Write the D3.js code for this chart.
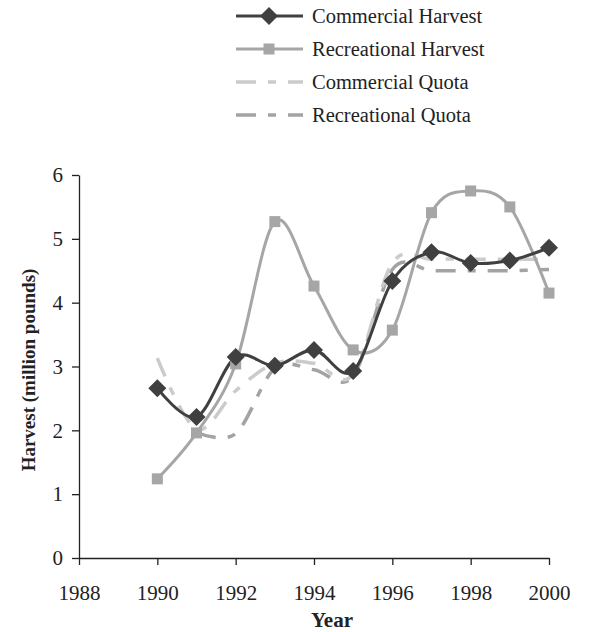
<!DOCTYPE html>
<html>
<head>
<meta charset="utf-8">
<script src="https://cdn.jsdelivr.net/npm/d3@7"></script>
<style>
  body { margin: 0; background: #fff; }
  svg { display: block; }
  text { font-family: "Liberation Serif", "Times New Roman", serif; fill: #222; }
</style>
</head>
<body>
<svg id="chart" width="589" height="632"></svg>
<script>
const years = [1990, 1991, 1992, 1993, 1994, 1995, 1996, 1997, 1998, 1999, 2000];
const commercialHarvest = [2.66, 2.21, 3.15, 3.01, 3.26, 2.93, 4.34, 4.79, 4.62, 4.66, 4.86];
const recreationalHarvest = [1.24, 1.96, 3.04, 5.27, 4.26, 3.26, 3.57, 5.41, 5.75, 5.50, 4.15];
const quotaYearsCom = [1990, 1991, 1992, 1993, 1994, 1995, 1996, 1997, 1998, 1999, 2000];
const commercialQuota = [3.13, 2.02, 2.62, 3.05, 3.05, 2.88, 4.62, 4.68, 4.68, 4.68, 4.68];
const quotaYearsRec = [1991, 1992, 1993, 1994, 1995, 1996, 1997, 1998, 1999, 2000];
const recreationalQuota = [1.97, 1.95, 2.97, 2.95, 2.85, 4.52, 4.50, 4.50, 4.50, 4.52];
const xTicks = [1988, 1990, 1992, 1994, 1996, 1998, 2000];
const yTicks = [0, 1, 2, 3, 4, 5, 6];
const seriesNames = ["Commercial Harvest", "Recreational Harvest", "Commercial Quota", "Recreational Quota"];

const svg = d3.select("#chart");
const x = d3.scaleLinear().domain([1988, 2000]).range([79, 549]);
const y = d3.scaleLinear().domain([0, 6]).range([558, 175]);

// Axes
const xAxis = d3.axisBottom(x).tickValues(xTicks).tickFormat(d3.format("d")).tickSize(7).tickSizeOuter(0);
const gx = svg.append("g").attr("transform", `translate(0,${y(0)})`).call(xAxis);
gx.select(".domain").attr("stroke", "#222").attr("stroke-width", 1.3);
gx.selectAll(".tick line").attr("stroke", "#222").attr("stroke-width", 1.3);
gx.selectAll(".tick text").attr("font-size", 21).attr("y", 10).attr("dy", "1.5em")
  .style("font-family", "'Liberation Serif', serif").attr("fill", "#222");

const yAxis = d3.axisLeft(y).tickValues(yTicks).tickFormat(d3.format("d")).tickSize(7).tickSizeOuter(0);
const gy = svg.append("g").attr("transform", `translate(${x(1988)},0)`).call(yAxis);
gy.select(".domain").attr("stroke", "#222").attr("stroke-width", 1.3);
gy.selectAll(".tick line").attr("stroke", "#222").attr("stroke-width", 1.3);
gy.selectAll(".tick text").attr("font-size", 21).attr("x", -16)
  .style("font-family", "'Liberation Serif', serif").attr("fill", "#222");

// Axis titles
svg.append("text").attr("x", 332).attr("y", 627).attr("text-anchor", "middle")
  .attr("font-size", 21).attr("font-weight", "bold").text("Year");
svg.append("text").attr("transform", `translate(35,370) rotate(-90)`)
  .attr("text-anchor", "middle").attr("font-size", 19).attr("font-weight", "bold")
  .text("Harvest (million pounds)");

const curve = d3.curveCardinal.tension(0);
const line = d3.line().x(d => x(d[0])).y(d => y(d[1])).curve(curve);

const dashPat = "20,12,8,12";
const styles = [
  { color: "#404040", width: 3, dash: null, marker: "diamond" },
  { color: "#a6a6a6", width: 3, dash: null, marker: "square" },
  { color: "#cbcbcb", width: 3.5, dash: dashPat, marker: null },
  { color: "#a3a3a3", width: 3.5, dash: dashPat, marker: null }
];
const data = [
  d3.zip(years, commercialHarvest),
  d3.zip(years, recreationalHarvest),
  d3.zip(quotaYearsCom, commercialQuota),
  d3.zip(quotaYearsRec, recreationalQuota)
];

const plot = svg.append("g");
const order = [3, 2, 1, 0];
order.forEach(i => {
  plot.append("path").datum(data[i]).attr("d", line)
    .attr("fill", "none").attr("stroke", styles[i].color)
    .attr("stroke-width", styles[i].width)
    .attr("stroke-dasharray", styles[i].dash)
    .attr("stroke-linejoin", "round");
});

function drawMarker(g, type, cx, cy, color) {
  if (type === "diamond") {
    g.append("path").attr("d", `M${cx},${cy - 9}L${cx + 9},${cy}L${cx},${cy + 9}L${cx - 9},${cy}Z`)
      .attr("fill", color);
  } else if (type === "square") {
    g.append("rect").attr("x", cx - 5.5).attr("y", cy - 5.5).attr("width", 11).attr("height", 11)
      .attr("fill", color);
  }
}
[1, 0].forEach(i => {
  data[i].forEach(d => drawMarker(plot, styles[i].marker, x(d[0]), y(d[1]), styles[i].color));
});

// Legend
const legendY = [16, 49, 82, 115];
const lg = svg.append("g");
seriesNames.forEach((name, i) => {
  const ly = legendY[i];
  lg.append("line").attr("x1", 236).attr("x2", 303).attr("y1", ly).attr("y2", ly)
    .attr("stroke", styles[i].color).attr("stroke-width", styles[i].width)
    .attr("stroke-dasharray", styles[i].dash);
  if (styles[i].marker) drawMarker(lg, styles[i].marker, 269, ly, styles[i].color);
  lg.append("text").attr("x", 312).attr("y", ly + 7).attr("font-size", 20.5).text(name);
});
</script>
</body>
</html>
